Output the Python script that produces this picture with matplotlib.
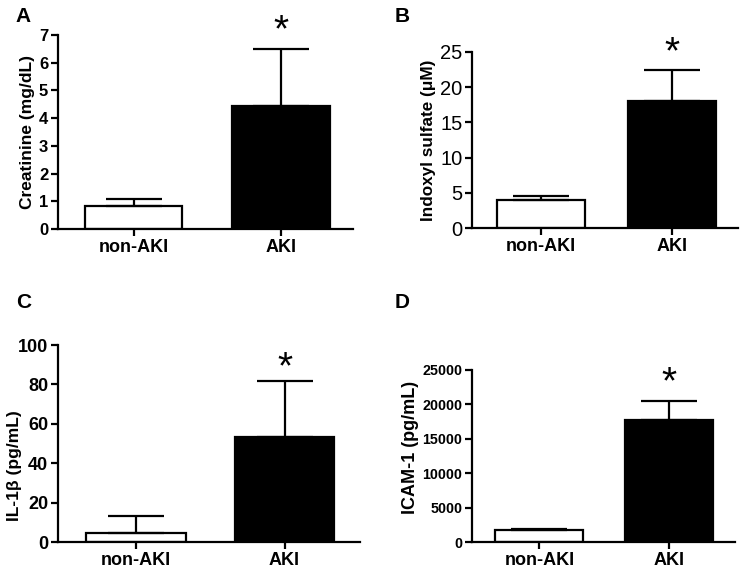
import numpy as np
import matplotlib
matplotlib.use('Agg')
import matplotlib.pyplot as plt

plt.rcParams['font.family'] = ['Liberation Sans', 'DejaVu Sans']

groups = ['non-AKI', 'AKI']

# panel values: means and upper error (SD/SEM)
creat_mean = [0.85, 4.45]
creat_err = [0.23, 2.05]
indoxyl_mean = [3.95, 18.1]
indoxyl_err = [0.65, 4.4]
il1b_mean = [4.8, 53.5]
il1b_err = [8.2, 28.0]
icam_mean = [1800, 17800]
icam_err = [150, 2700]

creat_ticks = [0, 1, 2, 3, 4, 5, 6, 7]
indoxyl_ticks = [0, 5, 10, 15, 20, 25]
il1b_ticks = [0, 20, 40, 60, 80, 100]
icam_ticks = [0, 5000, 10000, 15000, 20000, 25000]

fig = plt.figure(figsize=(7.5, 5.7), dpi=100)


def bar_panel(rect, means, errs, ticks, ylabel, label_size, star_y, letter, letter_xy,
              tick_size, tick_weight, xlim, width):
    ax = fig.add_axes(rect)
    x = np.arange(len(groups))
    ax.bar(x, means, width=width, color=['white', 'black'], edgecolor='black',
           linewidth=1.6, zorder=2)
    ax.errorbar(x, means, yerr=[np.zeros(len(errs)), errs], fmt='none',
                ecolor='black', elinewidth=1.6, capsize=20, capthick=1.6, zorder=3)
    ax.set_xlim(*xlim)
    ax.set_ylim(ticks[0], ticks[-1])
    ax.set_yticks(ticks)
    ax.set_xticks(x)
    ax.set_xticklabels(groups, fontsize=13, fontweight='bold')
    for lab in ax.get_yticklabels():
        lab.set_fontsize(tick_size)
        lab.set_fontweight(tick_weight)
    ax.set_ylabel(ylabel, fontsize=label_size, fontweight='bold', labelpad=3)
    for s in ['top', 'right']:
        ax.spines[s].set_visible(False)
    for s in ['left', 'bottom']:
        ax.spines[s].set_linewidth(1.6)
    ax.tick_params(axis='both', direction='out', length=5, width=1.6, pad=2)
    ax.text(1, star_y, '*', ha='center', va='center', fontsize=28, clip_on=False)
    fig.text(letter_xy[0], letter_xy[1], letter, fontsize=15, fontweight='bold',
             ha='center', va='center')
    return ax


# A
axA = bar_panel([0.0773, 0.598, 0.3934, 0.3406], creat_mean, creat_err, creat_ticks,
                'Creatinine (mg/dL)', 12.5, 7.13, 'A', (0.031, 0.971), 12, 'bold',
                (-0.517, 1.49), 0.66)
# B
axB = bar_panel([0.6293, 0.6, 0.3547, 0.3088], indoxyl_mean, indoxyl_err, indoxyl_ticks,
                'Indoxyl sulfate (\u03bcM)', 12.3, 24.8, 'B', (0.536, 0.971), 14.5, 'normal',
                (-0.527, 1.504), 0.67)
# C
axC = bar_panel([0.0773, 0.0491, 0.4027, 0.3456], il1b_mean, il1b_err, il1b_ticks,
                'IL-1\u03b2 (pg/mL)', 12.5, 88.1, 'C', (0.031, 0.47), 13, 'bold',
                (-0.525, 1.508), 0.67)
axC.yaxis.set_label_coords(-0.12, 0.39)
# D
axD = bar_panel([0.6293, 0.0491, 0.3507, 0.3018], icam_mean, icam_err, icam_ticks,
                'ICAM-1 (pg/mL)', 13, 23040, 'D', (0.536, 0.47), 10.3, 'bold',
                (-0.52, 1.51), 0.68)
axD.yaxis.set_label_coords(-0.2, 0.55)

fig.savefig('out.png', dpi=100)
